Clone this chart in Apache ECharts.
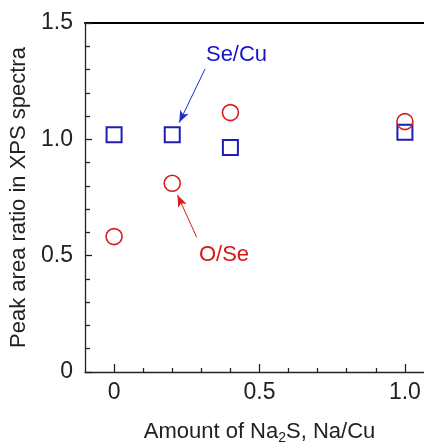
<!DOCTYPE html>
<html>
<head>
<meta charset="utf-8">
<script src="https://cdn.jsdelivr.net/npm/echarts@6/dist/echarts.min.js"></script>
<style>
  html, body { margin: 0; padding: 0; background: #fff; }
  #chart { width: 424px; height: 442px; }
</style>
</head>
<body>
<div id="chart"></div>
<script>
// x values (Na/Cu)
const naCu = [0, 0.2, 0.4, 1.0];
// Se/Cu peak area ratio (squares)
const seCu = [1.02, 1.02, 0.965, 1.03];
// O/Se peak area ratio (circles)
const oSe = [0.582, 0.811, 1.115, 1.076];

const xMajorTicks = [0, 0.5, 1.0];
const xMinorTicks = [0.1, 0.2, 0.3, 0.4, 0.6, 0.7, 0.8, 0.9];

// annotation positions (data units)
const seCuLabel = [0.421, 1.363];
const oSeLabel = [0.378, 0.503];
const seCuArrow = [[0.313, 1.303], [0.224, 1.072]];
const oSeArrow = [[0.284, 0.579], [0.218, 0.761]];

const chart = echarts.init(document.getElementById('chart'));
const font = 'Arial, "Liberation Sans", Helvetica, sans-serif';
const axisColor = '#222';

const option = {
  animation: false,
  textStyle: { fontFamily: font },
  grid: {
    left: 85, top: 23, bottom: 70, right: -10,
    outerBoundsMode: 'none',
    show: false
  },
  xAxis: [
    {
      type: 'value',
      min: -0.1, max: 1.1,
      name: 'Amount of Na{sub|2}S, Na/Cu',
      nameLocation: 'middle',
      nameGap: 47,
      nameTextStyle: {
        fontSize: 22, color: axisColor, fontFamily: font,
        rich: { sub: { fontSize: 14, fontFamily: font, color: axisColor, padding: [12, 0, 0, 0] } }
      },
      axisLine: { show: true, onZero: false, lineStyle: { color: axisColor, width: 1.3 } },
      axisTick: { inside: true, length: 8, customValues: xMajorTicks, lineStyle: { color: axisColor, width: 1.3 } },
      axisLabel: {
        customValues: xMajorTicks, margin: 9, fontSize: 23, color: axisColor, fontFamily: font,
        formatter: v => (v === 0 ? '0' : v.toFixed(1))
      },
      splitLine: { show: false }
    },
    {
      type: 'value',
      position: 'bottom',
      min: -0.1, max: 1.1,
      axisLine: { show: false },
      axisTick: { inside: true, length: 4, customValues: xMinorTicks, lineStyle: { color: axisColor, width: 1.3 } },
      axisLabel: { show: false },
      splitLine: { show: false }
    },
    {
      type: 'value',
      position: 'top',
      min: -0.1, max: 1.1,
      axisLine: { show: true, onZero: false, lineStyle: { color: '#000', width: 2 } },
      axisTick: { show: false },
      axisLabel: { show: false },
      splitLine: { show: false }
    }
  ],
  yAxis: {
    type: 'value',
    min: 0, max: 1.5, interval: 0.5,
    name: 'Peak area ratio in XPS spectra',
    nameLocation: 'middle',
    nameGap: 51,
    nameTextStyle: { fontSize: 22, color: axisColor, fontFamily: font },
    axisLine: { show: true, onZero: false, lineStyle: { color: axisColor, width: 1.3 } },
    axisTick: { inside: true, length: 7, lineStyle: { color: axisColor, width: 1.3 } },
    minorTick: { show: true, splitNumber: 5, length: 5, lineStyle: { color: axisColor, width: 1.3 } },
    axisLabel: {
      margin: 12, fontSize: 23, color: axisColor, fontFamily: font,
      formatter: v => (v === 0 ? '0' : v.toFixed(1))
    },
    splitLine: { show: false }
  },
  series: [
    {
      name: 'Se/Cu',
      type: 'scatter',
      symbol: 'rect',
      symbolSize: 15,
      itemStyle: { color: 'rgba(0,0,0,0)', borderColor: '#1e1eb4', borderWidth: 2, opacity: 1 },
      data: naCu.map((x, i) => [x, seCu[i]]),
      markLine: {
        silent: true,
        symbol: ['none', 'arrow'],
        symbolSize: [7, 12],
        label: { show: false },
        lineStyle: { color: '#1a2fd0', width: 1, type: 'solid', opacity: 1 },
        data: [[{ coord: seCuArrow[0] }, { coord: seCuArrow[1] }]]
      }
    },
    {
      name: 'O/Se',
      type: 'scatter',
      symbol: 'circle',
      symbolSize: 16,
      itemStyle: { color: 'rgba(0,0,0,0)', borderColor: '#d41f1f', borderWidth: 1.6, opacity: 1 },
      data: naCu.map((x, i) => [x, oSe[i]]),
      markLine: {
        silent: true,
        symbol: ['none', 'arrow'],
        symbolSize: [7, 12],
        label: { show: false },
        lineStyle: { color: '#d41f1f', width: 1, type: 'solid', opacity: 1 },
        data: [[{ coord: oSeArrow[0] }, { coord: oSeArrow[1] }]]
      }
    },
    {
      type: 'scatter',
      symbolSize: 0,
      silent: true,
      itemStyle: { opacity: 1 },
      label: { show: true, position: 'inside', fontSize: 22, fontFamily: font, formatter: p => p.name },
      data: [
        { name: 'Se/Cu', value: seCuLabel, label: { color: '#1515c8' } },
        { name: 'O/Se', value: oSeLabel, label: { color: '#d41818' } }
      ]
    }
  ]
};

chart.setOption(option);
</script>
</body>
</html>
